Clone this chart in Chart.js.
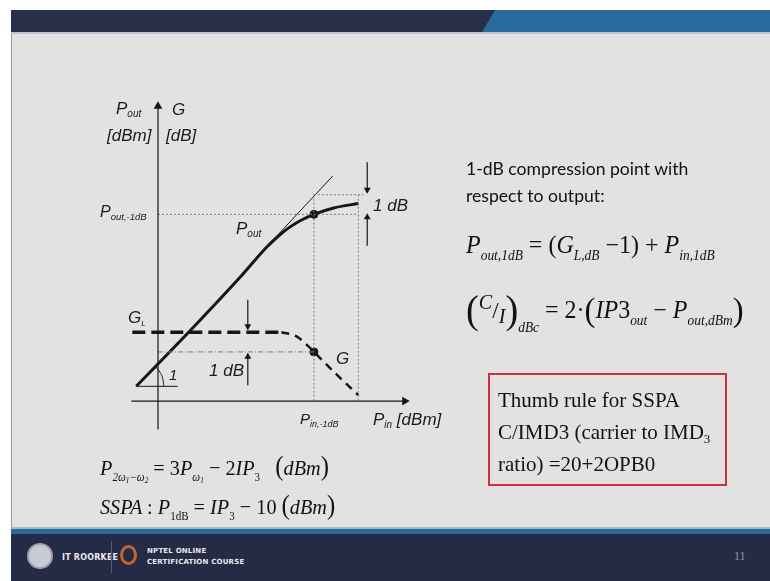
<!DOCTYPE html>
<html>
<head>
<meta charset="utf-8">
<script src="https://cdn.jsdelivr.net/npm/chart.js@4"></script>
<style>
  html, body { margin: 0; padding: 0; }
  body { width: 770px; height: 581px; position: relative; overflow: hidden; background: #ffffff; }
  .slide { position: absolute; left: 11px; top: 10px; width: 759px; height: 571px; background: #e2e3e1; border-left: 1px solid #9a9a9a; }
  .bar-dark { position: absolute; left: 11px; top: 10px; width: 759px; height: 22px; background: #283049; }
  .bar-blue { position: absolute; left: 482px; top: 10px; width: 288px; height: 22px; background: #276a9b;
              clip-path: polygon(13px 0, 100% 0, 100% 100%, 0 100%); }
  .bar-line { position: absolute; left: 11px; top: 32px; width: 759px; height: 2px; background: #b9c6d3; }
  .foot-line { position: absolute; left: 11px; top: 527px; width: 759px; height: 2px; background: #9fb8cc; }
  .foot-blue { position: absolute; left: 11px; top: 529px; width: 759px; height: 5px; background: #2b6a98; }
  .foot { position: absolute; left: 11px; top: 534px; width: 759px; height: 47px; background: #262b45; }
  canvas#diagram { position: absolute; left: 0; top: 0; }
  .t { position: absolute; white-space: nowrap; color: #1a1a1a; line-height: 1; }
  .lab { font-family: "Liberation Sans", Arial, sans-serif; font-style: italic; font-size: 17px; }
  .lab sub { font-size: 10px; vertical-align: -3px; }
  .txt { font-family: Lato, "Open Sans", sans-serif; font-size: 17.6px; color: #111; }
  .eq { font-family: "Liberation Serif", "Times New Roman", serif; font-style: italic; font-size: 25px; color: #111;
        transform: scaleX(0.96); transform-origin: left top; }
  .eq sub { font-size: 14px; vertical-align: -7px; }
  .eq .up { font-style: normal; }
  .eqs { font-family: "Liberation Serif", "Times New Roman", serif; font-style: italic; font-size: 22px; color: #111;
         transform: scaleX(0.92); transform-origin: left top; }
  .eqs sub { font-size: 12px; vertical-align: -6px; }
  .eqs .up { font-style: normal; }
  .box { position: absolute; left: 488px; top: 373px; border: 2px solid #c8323f;
         font-family: "Liberation Serif", "Times New Roman", serif; font-size: 21px; color: #111;
         line-height: 32px; padding: 9px 0 0 8px; box-sizing: border-box; width: 239px; height: 113px; }
  .box sub { font-size: 13px; vertical-align: -4px; line-height: 0; }
  .foot-txt { position: absolute; font-family: "DejaVu Sans", sans-serif; font-weight: bold; color: #e8e8ee; font-size: 7px; letter-spacing: 0.2px; }
</style>
</head>
<body>
<div class="slide"></div>
<div class="bar-dark"></div>
<div class="bar-blue"></div>
<div class="bar-line"></div>
<div class="foot-line"></div>
<div class="foot-blue"></div>
<div class="foot"></div>

<!-- footer logos and captions -->
<div style="position:absolute;left:27px;top:543px;width:26px;height:26px;border-radius:50%;background:#c9cbd2;border:2px solid #9ea2b0;box-sizing:border-box;"></div>
<div class="foot-txt" style="left:62px;top:553px;font-size:8px;">IT ROORKEE</div>
<div style="position:absolute;left:111px;top:541px;width:1px;height:32px;background:#555a74;"></div>
<div style="position:absolute;left:120px;top:545px;width:17px;height:20px;border-radius:50%;border:3px solid #c0662e;box-sizing:border-box;"></div>
<div class="foot-txt" style="left:147px;top:547px;">NPTEL ONLINE</div>
<div class="foot-txt" style="left:147px;top:558px;">CERTIFICATION COURSE</div>
<div class="t" style="left:734px;top:550px;font-family:'Liberation Serif',serif;font-size:12px;color:#8d93a6;">11</div>

<canvas id="diagram" width="770" height="581"></canvas>

<!-- diagram labels -->
<div class="t lab" style="left:116px;top:100px;">P<sub>out</sub></div>
<div class="t lab" style="left:107px;top:127px;">[dBm]</div>
<div class="t lab" style="left:172px;top:101px;">G</div>
<div class="t lab" style="left:166px;top:127px;">[dB]</div>
<div class="t lab" style="left:100px;top:204px;font-size:16px;">P<sub style="font-size:9.5px;">out,-1dB</sub></div>
<div class="t lab" style="left:236px;top:220px;">P<sub>out</sub></div>
<div class="t lab" style="left:373px;top:197px;">1 dB</div>
<div class="t lab" style="left:128px;top:309px;">G<sub style="font-size:8px;">L</sub></div>
<div class="t lab" style="left:336px;top:350px;">G</div>
<div class="t lab" style="left:209px;top:362px;">1 dB</div>
<div class="t lab" style="left:169px;top:367px;font-size:15px;">1</div>
<div class="t lab" style="left:300px;top:411px;font-size:15px;">P<sub style="font-size:9px;">in,-1dB</sub></div>
<div class="t lab" style="left:373px;top:411px;">P<sub>in</sub> [dBm]</div>

<!-- right-hand notes -->
<div class="t txt" style="left:466px;top:160px;">1-dB compression point with</div>
<div class="t txt" style="left:466px;top:187px;">respect to output:</div>
<div class="t eq" style="left:466px;top:232px;">P<sub>out,1dB</sub> <span class="up">= (</span>G<sub>L,dB</sub> <span class="up">&minus;1) +</span> P<sub>in,1dB</sub></div>
<div class="t eq" style="left:466px;top:290px;"><span class="up" style="font-size:40px;vertical-align:-5px;">(</span><span style="font-size:21px;vertical-align:9px;">C</span><span class="up" style="font-size:24px;">/</span><span style="font-size:21px;vertical-align:-5px;">I</span><span class="up" style="font-size:40px;vertical-align:-5px;">)</span><sub style="vertical-align:-14px;">dBc</sub> <span class="up">= 2&middot;</span><span class="up" style="font-size:34px;vertical-align:-3px;">(</span>IP<span class="up">3</span><sub>out</sub> <span class="up">&minus;</span> P<sub>out,dBm</sub><span class="up" style="font-size:34px;vertical-align:-3px;">)</span></div>
<div class="box">Thumb rule for SSPA<br>C/IMD3 (carrier to IMD<sub>3</sub><br>ratio) =20+2OPB0</div>

<!-- formulas under the diagram -->
<div class="t eqs" style="left:100px;top:453px;">P<sub>2&omega;<sub style="font-size:8px;vertical-align:-2px;">1</sub>&minus;&omega;<sub style="font-size:8px;vertical-align:-2px;">2</sub></sub> <span class="up">= 3</span>P<sub>&omega;<sub style="font-size:8px;vertical-align:-2px;">1</sub></sub> <span class="up">&minus; 2</span>IP<sub class="up">3</sub> &nbsp;&nbsp;<span class="up" style="font-size:27px;">(</span>dBm<span class="up" style="font-size:27px;">)</span></div>
<div class="t eqs" style="left:100px;top:492px;">SSPA <span class="up">:</span> P<sub class="up">1dB</sub> <span class="up">=</span> IP<sub class="up">3</sub> <span class="up">&minus; 10</span> <span class="up" style="font-size:27px;">(</span>dBm<span class="up" style="font-size:27px;">)</span></div>

<script>
// Input power (dBm) and output power (dBm) of the amplifier transfer curve
const poutIn  = [-2.2, 3.2, 8.5, 11.0, 12.5, 13.5, 14.5, 15.8, 17.8, 20.3];
const poutOut = [1.5, 7.1, 12.8, 15.65, 17.05, 17.8, 18.4, 19.0, 19.65, 20.1];

// Small-signal extrapolation of the output line
const tangentIn  = [12.0, 17.7];
const tangentOut = [16.75, 22.9];

// Gain curve: flat linear gain, then compression
const gainFlatIn  = [-2.6, 12.5];
const gainFlatOut = [7.0, 7.0];
const gainDropIn  = [12.5, 14.0, 15.0, 15.8, 18.0, 20.3];
const gainDropOut = [7.0, 6.6, 5.8, 5.0, 2.8, 0.6];

// 1-dB compression point and reference levels
const pin1dB = 15.8;
const pout1dB = 19.0;
const poutLinear = 21.0;
const gain1dB = 5.0;
const pinSat = 20.3;
const pinMarker = 20.8;

// Axes (with arrow tips)
const xAxisIn = [-2.7, 25.0];
const yAxisOut = [-2.9, 30.0];

// "1 dB" arrows
const arrowRightIn = 21.2;
const arrowRightDown = [24.3, 21.5];
const arrowRightUp = [15.8, 18.7];
const arrowLeftIn = 9.1;
const arrowLeftDown = [10.3, 7.6];
const arrowLeftUp = [1.6, 4.5];

// slope marker "1"
const slopeBaseIn = [-2.2, 2.0];
const slopeBaseOut = [1.5, 1.5];
const slopeArcIn = [-0.3, 0.22, 0.5, 0.6];
const slopeArcOut = [3.55, 2.9, 2.2, 1.5];

const ink = '#161616';
const dots = '#7a7a7a';

function pts(xs, ys) {
  return xs.map((x, i) => ({ x: x, y: ys[i] }));
}

function line(data, extra) {
  return Object.assign({
    data: data,
    showLine: true,
    borderColor: ink,
    backgroundColor: ink,
    borderWidth: 1,
    pointRadius: 0,
    tension: 0
  }, extra || {});
}

// arrow: a line whose last point is a rotated triangle
function arrow(data, rotation, size) {
  const n = data.length;
  return line(data, {
    borderWidth: 1.2,
    pointStyle: 'triangle',
    pointRotation: rotation,
    pointRadius: data.map((_, i) => (i === n - 1 ? size : 0)),
    pointBorderWidth: 0
  });
}

const dotted = { borderColor: dots, borderWidth: 1, borderDash: [2, 2] };

new Chart(document.getElementById('diagram'), {
  type: 'scatter',
  data: {
    datasets: [
      // axes
      arrow(pts(xAxisIn, [0, 0]), 90, 5),
      arrow(pts([0, 0], yAxisOut), 0, 5),

      // reference lines
      line(pts([0, pinSat], [pout1dB, pout1dB]), dotted),
      line(pts([pin1dB, pinMarker], [poutLinear, poutLinear]), dotted),
      line(pts([pin1dB, pin1dB], [poutLinear, 0]), dotted),
      line(pts([pinSat, pinSat], [poutLinear, 0]), dotted),
      line(pts([0, pin1dB], [gain1dB, gain1dB]), { borderColor: dots, borderWidth: 1, borderDash: [5, 2, 1, 2] }),

      // transfer curve and its extrapolation
      line(pts(tangentIn, tangentOut), { borderWidth: 1 }),
      line(pts(poutIn, poutOut), { borderWidth: 3, cubicInterpolationMode: 'monotone' }),

      // gain curve
      line(pts(gainFlatIn, gainFlatOut), { borderWidth: 3.5, borderDash: [13, 6] }),
      line(pts(gainDropIn, gainDropOut), { borderWidth: 2.5, borderDash: [8, 6], cubicInterpolationMode: 'monotone' }),

      // compression points
      line([{ x: pin1dB, y: pout1dB }, { x: pin1dB, y: gain1dB }], { showLine: false, pointRadius: 4 }),

      // 1 dB arrows
      arrow(pts([arrowRightIn, arrowRightIn], arrowRightDown), 180, 4),
      arrow(pts([arrowRightIn, arrowRightIn], arrowRightUp), 0, 4),
      arrow(pts([arrowLeftIn, arrowLeftIn], arrowLeftDown), 180, 4),
      arrow(pts([arrowLeftIn, arrowLeftIn], arrowLeftUp), 0, 4),

      // slope marker
      line(pts(slopeBaseIn, slopeBaseOut), { borderWidth: 1 }),
      line(pts(slopeArcIn, slopeArcOut), { borderWidth: 1, cubicInterpolationMode: 'monotone' })
    ]
  },
  options: {
    responsive: false,
    animation: false,
    layout: { padding: 0 },
    plugins: { legend: { display: false }, tooltip: { enabled: false } },
    scales: {
      x: { type: 'linear', min: -15.5, max: 61.5, display: false },
      y: { type: 'linear', min: -17.8, max: 40.3, display: false }
    }
  }
});
</script>
</body>
</html>
